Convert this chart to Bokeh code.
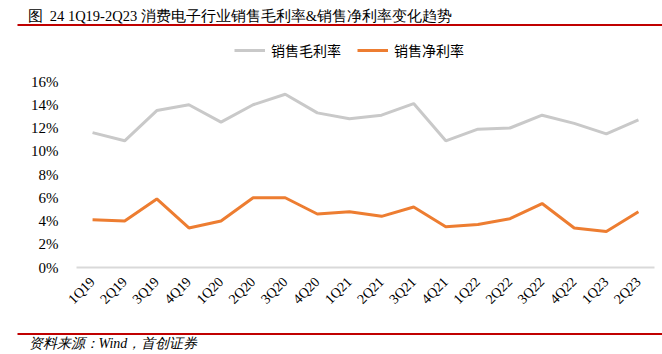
from bokeh.plotting import figure
from bokeh.layouts import column
from bokeh.models import (ColumnDataSource, FixedTicker, PrintfTickFormatter, Range1d,
                          Legend, LegendItem, Label, BoxAnnotation)
from bokeh.embed import file_html
from bokeh.resources import INLINE
import math

quarters = ["1Q19", "2Q19", "3Q19", "4Q19", "1Q20", "2Q20", "3Q20", "4Q20", "1Q21",
            "2Q21", "3Q21", "4Q21", "1Q22", "2Q22", "3Q22", "4Q22", "1Q23", "2Q23"]
gross_margin = [11.6, 10.9, 13.5, 14.0, 12.5, 14.0, 14.9, 13.3, 12.8,
                13.1, 14.1, 10.9, 11.9, 12.0, 13.1, 12.4, 11.5, 12.7]
net_margin = [4.1, 4.0, 5.9, 3.4, 4.0, 6.0, 6.0, 4.6, 4.8,
              4.4, 5.2, 3.5, 3.7, 4.2, 5.5, 3.4, 3.1, 4.8]
y_ticks = [0, 2, 4, 6, 8, 10, 12, 14, 16]
series_names = ["销售毛利率", "销售净利率"]
series_colors = ["#c9c9c9", "#ed7d31"]
title_text = "图\u00a0\u00a024 1Q19-2Q23 消费电子行业销售毛利率&销售净利率变化趋势"
source_text = "资料来源：Wind，首创证券"

W = 662
TOP_H, MAIN_H, BOT_H = 70, 250, 34
RED = "#c00000"


def blank_fig(h):
    f = figure(width=W, height=h, x_range=Range1d(0, W), y_range=Range1d(h, 0),
               x_axis_type=None, y_axis_type=None, output_backend="svg",
               toolbar_location=None, min_border=0)
    f.outline_line_color = None
    f.xgrid.grid_line_color = None
    f.ygrid.grid_line_color = None
    return f


# ---- header: title, red rule, legend ----
top = blank_fig(TOP_H)
top.add_layout(Label(x=27, y=15.5, text=title_text, text_font="Liberation Serif",
                     text_font_size="14.5px", text_baseline="middle", text_color="#000000"))
top.add_layout(BoxAnnotation(left=17, right=W, top=23.5, bottom=25.5,
                             fill_color=RED, fill_alpha=1, line_color=None))
d1 = top.line([-50, -40], [-50, -50], line_color=series_colors[0], line_width=3)
d2 = top.line([-50, -40], [-50, -50], line_color=series_colors[1], line_width=3)
legend = Legend(items=[LegendItem(label=series_names[0], renderers=[d1]),
                       LegendItem(label=series_names[1], renderers=[d2])],
                orientation="horizontal", location=(234, 10),
                padding=0, margin=0, spacing=16, glyph_width=31, glyph_height=20,
                label_standoff=6, label_text_font="Noto Sans CJK SC",
                label_text_font_size="14px", label_text_color="#000000",
                border_line_color=None, background_fill_alpha=0)
top.add_layout(legend, "center")

# ---- main chart ----
src = ColumnDataSource(dict(q=quarters, g=gross_margin, n=net_margin))
p = figure(width=W, height=MAIN_H, x_range=quarters, y_range=Range1d(0, 16),
           output_backend="svg", toolbar_location=None,
           min_border_left=76, min_border_right=8, min_border_top=11,
           min_border_bottom=MAIN_H - 11 - 186)
p.outline_line_color = None
p.xgrid.grid_line_color = None
p.ygrid.grid_line_color = None
p.x_range.range_padding = 0

p.line("q", "g", source=src, line_color=series_colors[0], line_width=3)
p.line("q", "n", source=src, line_color=series_colors[1], line_width=3)

p.yaxis.ticker = FixedTicker(ticks=y_ticks)
p.yaxis.formatter = PrintfTickFormatter(format="%d%%")
p.yaxis.axis_line_color = None
p.yaxis.major_tick_line_color = None
p.yaxis.minor_tick_line_color = None
p.yaxis.major_label_text_font = "Liberation Serif"
p.yaxis.major_label_text_font_size = "15px"
p.yaxis.major_label_text_color = "#000000"
p.yaxis.major_label_standoff = 12

p.xaxis.axis_line_color = "#d9d9d9"
p.xaxis.axis_line_width = 2
p.xaxis.major_tick_line_color = None
p.xaxis.minor_tick_line_color = None
p.xaxis.major_label_orientation = math.pi / 4
p.xaxis.major_label_text_font = "Liberation Serif"
p.xaxis.major_label_text_font_size = "14px"
p.xaxis.major_label_text_color = "#000000"
p.xaxis.major_label_standoff = 6

# ---- footer: red rule, source ----
bot = blank_fig(BOT_H)
bot.add_layout(BoxAnnotation(left=17, right=W, top=12.5, bottom=14.5,
                             fill_color=RED, fill_alpha=1, line_color=None))
bot.add_layout(Label(x=28, y=23, text=source_text, text_font="Liberation Serif",
                     text_font_size="14px", text_font_style="italic",
                     text_baseline="middle", text_color="#000000"))

layout = column(column(top), column(p), column(bot), spacing=0)
open("out.html", "w").write(file_html(layout, INLINE))
